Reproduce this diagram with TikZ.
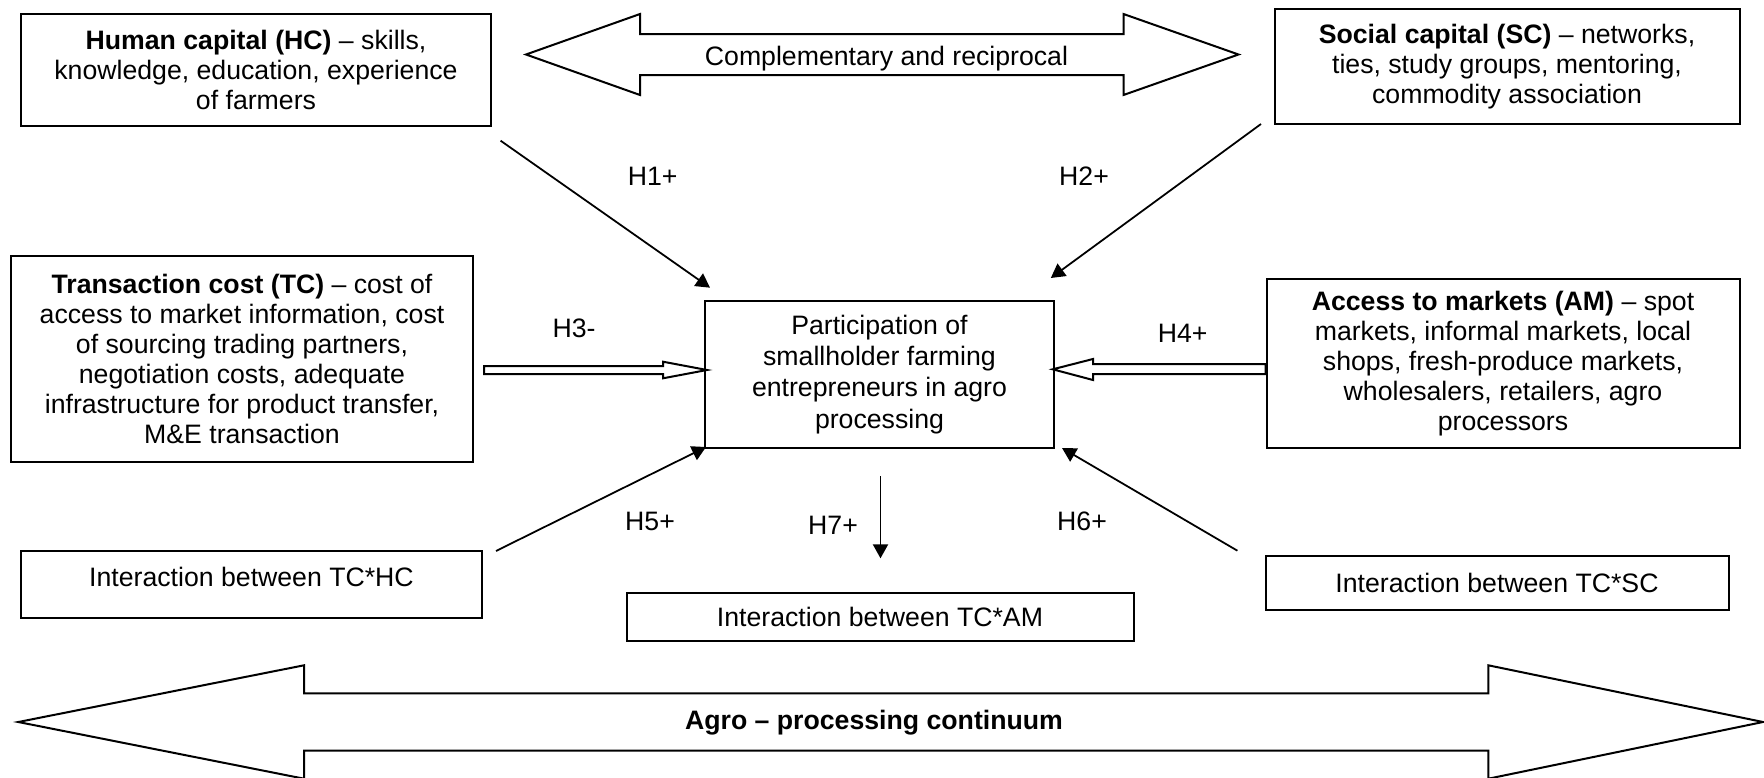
\documentclass[tikz,border=0pt]{standalone}
\usepackage{fontspec}
\setmainfont{Liberation Sans}
\usetikzlibrary{arrows.meta}

\tikzset{
  box/.style={draw, line width=0.9pt, align=center, inner sep=0pt},
  hyp/.style={-{Triangle[length=6.3pt,width=6.8pt]}, line width=0.8pt},
  block/.style={draw, line width=0.9pt, fill=white},
}

\begin{document}
\begin{tikzpicture}[x=0.45pt, y=-0.45pt, font=\fontsize{12}{13.5}\selectfont]
  \useasboundingbox (0,0) rectangle (1764,778);
  \node[box, minimum width=211.5pt, minimum height=50.4pt] (hc) at (256,70)
    {\textbf{Human capital (HC)} – skills,\\ knowledge, education, experience\\ of farmers};
  \node[box, minimum width=209.25pt, minimum height=51.75pt] (sc) at (1507,66.5)
    {\textbf{Social capital (SC)} – networks,\\ ties, study groups, mentoring,\\ commodity association};
  \node[box, minimum width=207.9pt, minimum height=92.7pt] (tc) at (242,359)
    {\textbf{Transaction cost (TC)} – cost of\\ access to market information, cost\\ of sourcing trading partners,\\
     negotiation costs, adequate\\ infrastructure for product transfer,\\ M\&E transaction};
  \node[box, minimum width=157.05pt, minimum height=66.15pt, font=\fontsize{12}{14}\selectfont] (part) at (879.5,374.5)
    {Participation of\\ smallholder farming\\ entrepreneurs in agro\\ processing};
  \node[box, minimum width=212.85pt, minimum height=76.05pt] (am) at (1503,363.5)
    {\textbf{Access to markets (AM)} – spot\\ markets, informal markets, local\\ shops, fresh-produce markets,\\
     wholesalers, retailers, agro\\ processors};
  \node[box, minimum width=207pt, minimum height=30.15pt, text depth=6.4pt] (tchc) at (251.5,584)
    {Interaction between TC*HC};
  \node[box, minimum width=208.35pt, minimum height=24.3pt] (tcsc) at (1497,583)
    {Interaction between TC*SC};
  \node[box, minimum width=228.15pt, minimum height=21.6pt] (tcam) at (880,616.7)
    {Interaction between TC*AM};

  \draw[block] (526,54.5) -- (640,14) -- (640,34) -- (1123.5,34) -- (1123.5,14) -- (1238.5,54.5)
    -- (1123.5,95) -- (1123.5,75) -- (640,75) -- (640,95) -- cycle;
  \node (comp) at (886.5,58.5) {Complementary and reciprocal};

  \draw[block] (18.3,722) -- (304,665.3) -- (304,693.3) -- (1488.3,693.3) -- (1488.3,665.3) -- (1763,722)
    -- (1488.3,778.7) -- (1488.3,750.7) -- (304,750.7) -- (304,778.7) -- cycle;
  \node (agro) at (874,723) {\textbf{Agro – processing continuum}};

  \draw[block] (484,366) -- (663,366) -- (663,361.7) -- (707,370) -- (663,378.3) -- (663,374) -- (484,374) -- cycle;
  \draw[block] (1265.7,364) -- (1093,364) -- (1093,359) -- (1052.7,369.3) -- (1093,380) -- (1093,374) -- (1265.7,374) -- cycle;

  \coordinate (h1s) at (500.6,140.7);
  \coordinate (h1e) at (710,287.7);
  \coordinate (h2s) at (1261,124);
  \coordinate (h2e) at (1050.8,278);
  \coordinate (h5s) at (496,551);
  \coordinate (h5e) at (706,447);
  \coordinate (h6s) at (1237.4,550.7);
  \coordinate (h6e) at (1062,448);
  \coordinate (h7s) at (880.5,476);
  \coordinate (h7e) at (880.5,558.3);
  \foreach \n in {h1,h2,h5,h6,h7}
    \draw[hyp] (\n s) -- (\n e);

  \node (lh1) at (652.7,176) {H1+};
  \node (lh2) at (1084,176) {H2+};
  \node (lh3) at (574,328) {H3-};
  \node (lh4) at (1182.7,333) {H4+};
  \node (lh5) at (650,521) {H5+};
  \node (lh6) at (1082,521) {H6+};
  \node (lh7) at (833,525) {H7+};
\end{tikzpicture}
\end{document}
